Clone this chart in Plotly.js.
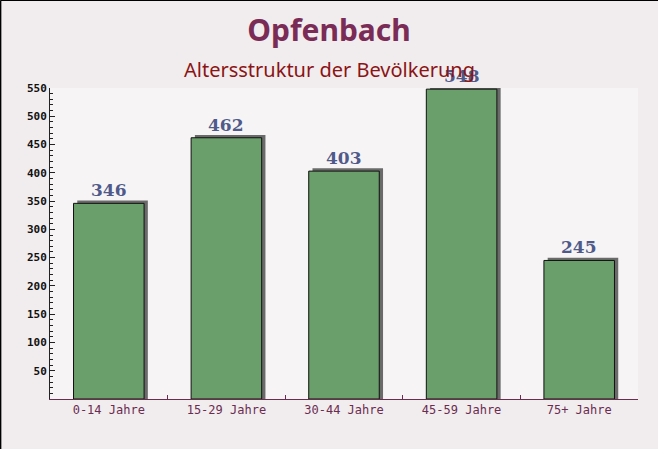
<!DOCTYPE html>
<html>
<head>
<meta charset="utf-8">
<script src="https://cdn.plot.ly/plotly-3.0.1.min.js"></script>
<style>html,body{margin:0;padding:0;background:#f1edef;}#chart{width:658px;height:449px;}</style>
</head>
<body>
<div id="chart"></div>
<script>
const categories = ["0-14 Jahre", "15-29 Jahre", "30-44 Jahre", "45-59 Jahre", "75+ Jahre"];
const values = [346, 462, 403, 548, 245];
const yTickVals = [50, 100, 150, 200, 250, 300, 350, 400, 450, 500, 550];

const depth = 5; // 3D depth in data units
const shadow = {
  type: 'bar', x: categories, y: values.map(v => v + depth),
  width: 0.6, offset: -0.268,
  marker: {color: '#6a6a6a', line: {width: 0}},
  hoverinfo: 'skip', showlegend: false, cliponaxis: false
};
const bars = {
  type: 'bar', x: categories, y: values,
  width: 0.6, offset: -0.3,
  marker: {color: '#6a9e6a', line: {color: '#111111', width: 1}},
  showlegend: false
};

const annotations = categories.map((c, i) => ({
  x: c, y: values[i], xref: 'x', yref: 'y',
  text: String(values[i]), showarrow: false, yanchor: 'bottom', yshift: 1,
  font: {family: 'DejaVu Serif, serif', size: 17, color: '#4f5a8a', weight: 'bold'}
}));
annotations.push({
  x: 0.4745, y: 1.058, xref: 'paper', yref: 'paper', showarrow: false,
  text: 'Altersstruktur der Bevölkerung', yanchor: 'middle',
  font: {family: 'Noto Sans, sans-serif', size: 20, color: '#8b1414'}
});

const layout = {
  width: 658, height: 449,
  margin: {l: 50, r: 20, t: 88, b: 50},
  paper_bgcolor: '#f1edef', plot_bgcolor: '#f7f4f5',
  barmode: 'overlay',
  title: {text: '<b>Opfenbach</b>', x: 0.5, xanchor: 'center', y: 0.931, yanchor: 'middle',
    font: {family: 'Noto Sans, sans-serif', size: 30, color: '#7a2c56'}},
  xaxis: {
    type: 'category', showgrid: false, zeroline: false,
    showline: true, linecolor: '#6b2c4f', linewidth: 1,
    ticks: 'inside', tickson: 'boundaries', ticklen: 4, tickcolor: '#6b2c4f',
    tickfont: {family: 'DejaVu Sans Mono, monospace', size: 12, color: '#6b2c4f'},
    range: [-0.5, 4.5]
  },
  yaxis: {
    range: [0, 550], showgrid: false, zeroline: false,
    showline: true, linecolor: '#222222', linewidth: 1,
    tickmode: 'array', tickvals: yTickVals,
    ticks: 'inside', ticklen: 5, tickcolor: '#222222',
    minor: {dtick: 10, ticks: 'inside', ticklen: 3, tickcolor: '#222222'},
    tickfont: {family: 'DejaVu Sans Mono, monospace', size: 11, color: '#111111', weight: 'bold'}
  },
  annotations: annotations,
  shapes: [
    {type: 'line', xref: 'paper', yref: 'paper', x0: -0.084, x1: -0.084, y0: -0.163, y1: 1.282, line: {color: '#000', width: 1.5}},
    {type: 'line', xref: 'paper', yref: 'paper', x0: -0.084, x1: 1.04, y0: 1.282, y1: 1.282, line: {color: '#000', width: 1.5}},
    {type: 'line', xref: 'paper', yref: 'paper', x0: -0.084, x1: 1.04, y0: -0.163, y1: -0.163, line: {color: '#000', width: 1.5}}
  ]
};

Plotly.newPlot('chart', [shadow, bars], layout, {displayModeBar: false, staticPlot: true});
</script>
</body>
</html>
